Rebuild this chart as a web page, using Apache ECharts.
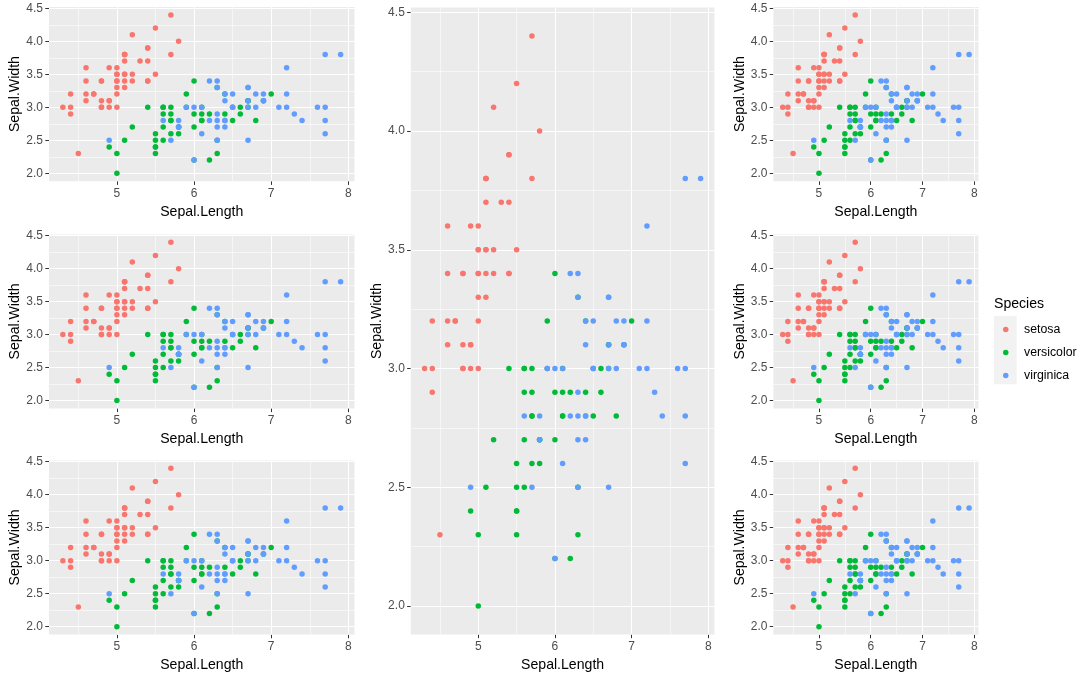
<!DOCTYPE html>
<html><head><meta charset="utf-8">
<script src="https://cdn.jsdelivr.net/npm/echarts@6/dist/echarts.min.js"></script>
<style>html,body{margin:0;padding:0;background:#fff}#c{width:1085px;height:680px}</style>
</head><body><div id="c"></div>
<script>
// Iris data: Sepal.Length / Sepal.Width by species
const species = ['setosa', 'versicolor', 'virginica'];
const setosaLength = [5.1,4.9,4.7,4.6,5.0,5.4,4.6,5.0,4.4,4.9,5.4,4.8,4.8,4.3,5.8,5.7,5.4,5.1,5.7,5.1,5.4,5.1,4.6,5.1,4.8,5.0,5.0,5.2,5.2,4.7,4.8,5.4,5.2,5.5,4.9,5.0,5.5,4.9,4.4,5.1,5.0,4.5,4.4,5.0,5.1,4.8,5.1,4.6,5.3,5.0];
const setosaWidth  = [3.5,3.0,3.2,3.1,3.6,3.9,3.4,3.4,2.9,3.1,3.7,3.4,3.0,3.0,4.0,4.4,3.9,3.5,3.8,3.8,3.4,3.7,3.6,3.3,3.4,3.0,3.4,3.5,3.4,3.2,3.1,3.4,4.1,4.2,3.1,3.2,3.5,3.6,3.0,3.4,3.5,2.3,3.2,3.5,3.8,3.0,3.8,3.2,3.7,3.3];
const versicolorLength = [7.0,6.4,6.9,5.5,6.5,5.7,6.3,4.9,6.6,5.2,5.0,5.9,6.0,6.1,5.6,6.7,5.6,5.8,6.2,5.6,5.9,6.1,6.3,6.1,6.4,6.6,6.8,6.7,6.0,5.7,5.5,5.5,5.8,6.0,5.4,6.0,6.7,6.3,5.6,5.5,5.5,6.1,5.8,5.0,5.6,5.7,5.7,6.2,5.1,5.7];
const versicolorWidth  = [3.2,3.2,3.1,2.3,2.8,2.8,3.3,2.4,2.9,2.7,2.0,3.0,2.2,2.9,2.9,3.1,3.0,2.7,2.2,2.5,3.2,2.8,2.5,2.8,2.9,3.0,2.8,3.0,2.9,2.6,2.4,2.4,2.7,2.7,3.0,3.4,3.1,2.3,3.0,2.5,2.6,3.0,2.6,2.3,2.7,3.0,2.9,2.9,2.5,2.8];
const virginicaLength = [6.3,5.8,7.1,6.3,6.5,7.6,4.9,7.3,6.7,7.2,6.5,6.4,6.8,5.7,5.8,6.4,6.5,7.7,7.7,6.0,6.9,5.6,7.7,6.3,6.7,7.2,6.2,6.1,6.4,7.2,7.4,7.9,6.4,6.3,6.1,7.7,6.3,6.4,6.0,6.9,6.7,6.9,5.8,6.8,6.7,6.7,6.3,6.5,6.2,5.9];
const virginicaWidth  = [3.3,2.7,3.0,2.9,3.0,3.0,2.5,2.9,2.5,3.6,3.2,2.7,3.0,2.5,2.8,3.2,3.0,3.8,2.6,2.2,3.2,2.8,2.8,2.7,3.3,3.2,2.8,3.0,2.8,3.0,2.8,3.8,2.8,2.8,2.6,3.0,3.4,3.1,3.0,3.1,3.1,3.1,2.7,3.2,3.3,3.0,2.5,3.0,3.4,3.0];
const xTicks = [5, 6, 7, 8];
const xMinor = [4.5, 5.5, 6.5, 7.5];
const yTicks = [2.0, 2.5, 3.0, 3.5, 4.0, 4.5];
const yMinor = [2.25, 2.75, 3.25, 3.75, 4.25];
const xLimits = [4.12, 8.08];
const yLimits = [1.88, 4.52];
const colors = ['#F8766D', '#00BA38', '#619CFF'];
const xTitle = 'Sepal.Length', yTitle = 'Sepal.Width', legendTitle = 'Species';

const lengths = [setosaLength, versicolorLength, virginicaLength];
const widths = [setosaWidth, versicolorWidth, virginicaWidth];

// panel layout [left, top, width, height]
const panels = [
  [49, 7, 305.5, 174.2], [49, 234.4, 305.5, 174.0], [49, 460.4, 305.5, 174.2],
  [410.8, 7.6, 303.6, 626.9],
  [773.4, 7, 205, 174.2], [773.4, 234.4, 205, 174.0], [773.4, 460.4, 205, 174.2]
];

const FONT = 'Liberation Sans, Arial, sans-serif';
const grid = [], xAxis = [], yAxis = [], series = [];
const lab = {color: '#4D4D4D', fontSize: 12, fontFamily: FONT};
const ttl = {color: '#000', fontSize: 14.1, fontFamily: FONT};
panels.forEach((p, i) => {
  grid.push({left: p[0], top: p[1], width: p[2], height: p[3], show: true, backgroundColor: '#EBEBEB', borderWidth: 0, containLabel: false, z: 0});
  xAxis.push({type: 'value', gridIndex: i, min: xLimits[0], max: xLimits[1],
    axisLine: {show: false}, splitLine: {show: false},
    axisTick: {show: true, customValues: xTicks, length: 3.7, lineStyle: {color: '#333', width: 1}},
    axisLabel: {show: true, customValues: xTicks, margin: 6, ...lab, formatter: v => String(Math.round(v))},
    name: xTitle, nameLocation: 'middle', nameGap: 23.5, nameTextStyle: ttl});
  yAxis.push({type: 'value', gridIndex: i, min: yLimits[0], max: yLimits[1],
    axisLine: {show: false}, splitLine: {show: false},
    axisTick: {show: true, customValues: yTicks, length: 3.7, lineStyle: {color: '#333', width: 1}},
    axisLabel: {show: true, customValues: yTicks, margin: 6, ...lab, formatter: v => v.toFixed(1)},
    name: yTitle, nameLocation: 'middle', nameGap: 26.5, nameTextStyle: ttl});
  const ml = [];
  xMinor.forEach(v => ml.push({xAxis: v, lineStyle: {width: 0.55}}));
  yMinor.forEach(v => ml.push({yAxis: v, lineStyle: {width: 0.55}}));
  xTicks.forEach(v => ml.push({xAxis: v, lineStyle: {width: 1.1}}));
  yTicks.forEach(v => ml.push({yAxis: v, lineStyle: {width: 1.1}}));
  series.push({type: 'scatter', xAxisIndex: i, yAxisIndex: i, data: [], z: 1, silent: true,
    markLine: {z: 1, silent: true, symbol: ['none', 'none'], label: {show: false}, animation: false,
      lineStyle: {color: '#FFFFFF', type: 'solid'}, emphasis: {disabled: true}, data: ml}});
  species.forEach((s, k) => {
    series.push({type: 'scatter', name: s, xAxisIndex: i, yAxisIndex: i, z: 3,
      symbol: 'circle', symbolSize: 5.5, itemStyle: {color: colors[k], opacity: 1},
      data: lengths[k].map((x, j) => [x, widths[k][j]])});
  });
});

const chart = echarts.init(document.getElementById('c'), null, {renderer: 'canvas'});
chart.setOption({
  animation: false,
  backgroundColor: '#FFFFFF',
  grid, xAxis, yAxis, series,
  legend: {orient: 'vertical', left: 1003, top: 323.5, padding: 0, itemWidth: 5.5, itemHeight: 5.5, itemGap: 11,
    icon: 'circle', data: species, selectedMode: false,
    textStyle: {color: '#000', fontSize: 12.3, fontFamily: FONT, padding: [0, 0, 0, 10.5]}},
  graphic: [
    {type: 'rect', left: 994, top: 316, shape: {width: 22.7, height: 68.3}, style: {fill: '#F2F2F2'}, z: 0},
    {type: 'text', left: 994, top: 297.5, style: {text: legendTitle, fill: '#000', font: '14.1px "Liberation Sans", Arial, sans-serif'}}
  ]
});
</script></body></html>
